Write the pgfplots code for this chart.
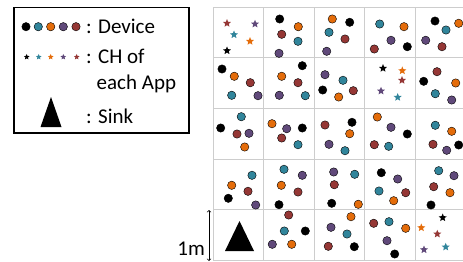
\documentclass[border=0pt]{standalone}
\usepackage{pgfplots}
\pgfplotsset{compat=1.18}
\usepackage{fontspec}
\setmainfont{Carlito}
\definecolor{cblack}{RGB}{0,0,0}
\definecolor{cteal}{RGB}{49,133,155}
\definecolor{corange}{RGB}{228,108,10}
\definecolor{cpurple}{RGB}{96,73,122}
\definecolor{cred}{RGB}{149,55,53}
\definecolor{cgrid}{RGB}{205,205,205}
\pgfdeclareplotmark{fstar}{%
  \pgfpathmoveto{\pgfpointpolar{90}{\pgfplotmarksize}}%
  \pgfpathlineto{\pgfpointpolar{126}{0.45\pgfplotmarksize}}%
  \pgfpathlineto{\pgfpointpolar{162}{\pgfplotmarksize}}%
  \pgfpathlineto{\pgfpointpolar{198}{0.45\pgfplotmarksize}}%
  \pgfpathlineto{\pgfpointpolar{234}{\pgfplotmarksize}}%
  \pgfpathlineto{\pgfpointpolar{270}{0.45\pgfplotmarksize}}%
  \pgfpathlineto{\pgfpointpolar{306}{\pgfplotmarksize}}%
  \pgfpathlineto{\pgfpointpolar{342}{0.45\pgfplotmarksize}}%
  \pgfpathlineto{\pgfpointpolar{18}{\pgfplotmarksize}}%
  \pgfpathlineto{\pgfpointpolar{54}{0.45\pgfplotmarksize}}%
  \pgfpathclose\pgfusepathqfill}
\begin{document}
\begin{tikzpicture}
\begin{axis}[width=463pt,height=262pt,scale only axis,
  xmin=0,xmax=463,ymin=0,ymax=262,y dir=reverse,hide axis,clip=true]
\path[draw=none] (axis cs:0,0) rectangle (axis cs:463,262);
% grid
\addplot[cgrid,line width=1pt] coordinates {
(213,7.5) (470,7.5)

(213,58) (470,58)

(213,108.5) (470,108.5)

(213,159) (470,159)

(213,209.5) (470,209.5)

(213,260) (470,260)

(213,7.5) (213,260)

(263.5,7.5) (263.5,260)

(314,7.5) (314,260)

(364.5,7.5) (364.5,260)

(415,7.5) (415,260)
};
% legend box
\addplot[black,line width=1.5pt] coordinates {(14,7.3) (189,7.3) (189,133) (14,133)} -- cycle;
% devices
\addplot[only marks,mark=*,mark size=4.2pt,cblack,mark options={draw=none,fill=cblack}] coordinates {
(279.7,19) (349.7,22.3) (407.3,46.7) (435,21) (222,69) (302.3,65.7) (322.7,90) (423.7,81.3)
(220.7,128) (302.3,128) (352,122.3) (407.3,134) (458.7,145) (228.3,198.3) (279,204.7)
(331.7,203.3) (381.3,172.7) (431,205) (305.3,231) (354.3,246.7) (394.7,254) (26,26.7)};
\addplot[only marks,mark=*,mark size=4.2pt,mark options={draw=none,fill=cteal}] coordinates {
(298,41.3) (329,32.3) (379.7,24) (446,30) (231.7,95.3) (305.3,95.7) (343,80.3) (435.3,93.7)
(241.3,116.7) (298,144.7) (345,150.7) (388.7,146.3) (435.3,125.3) (252,175.3) (284,169.3)
(354.7,174.3) (379,191) (438.7,170.7) (284.3,231) (347,234) (389,221.7) (38.3,26.7)};
\addplot[only marks,mark=*,mark size=4.2pt,mark options={draw=none,fill=corange}] coordinates {
(298.3,26.7) (332.3,19) (404,26.7) (458.7,23.3) (234.3,76.3) (281.7,76.3) (338.7,97) (455.7,83)
(244.7,147) (272,123.7) (349.7,133.7) (377.3,117) (451.7,131.3) (231.7,185.3) (281.3,185.3)
(358.3,204.3) (393.7,200.7) (450,192.7) (291.7,244.3) (351,216.7) (405.7,228.3) (50.7,26.7)};
\addplot[only marks,mark=*,mark size=4.2pt,mark options={draw=none,fill=cpurple}] coordinates {
(279,53.3) (326.7,51.3) (391,40.3) (425.7,40.3) (258,95.7) (279.3,95.3) (325,74.7) (451.7,100)
(249,133.3) (286.7,128.7) (329,144.3) (391,127.3) (446.7,150.3) (255.7,205) (302.3,175.3)
(333.7,172) (397.7,179) (454,175.7) (272.3,244.3) (331,227.3) (387,240.7) (63.3,26.7)};
\addplot[only marks,mark=*,mark size=4.2pt,mark options={draw=none,fill=cred}] coordinates {
(281.7,34.3) (345,39) (374.3,49) (442,46.7) (250.3,82.7) (298,82.7) (353.3,90.7) (437,71.7)
(237,134) (281.7,138) (325,125) (374.3,144.7) (433,144.3) (248,191.3) (298,192) (334.3,184.7)
(405.7,192.7) (433.7,186.7) (288.7,215) (328.3,246.3) (373.7,223.3) (76,26.7)};
% cluster heads
\addplot[only marks,mark=fstar,mark size=4.2pt,mark options={fill=cblack}] coordinates {(227,50.7) (383,68.3) (442.7,217.7)};
\addplot[only marks,mark=fstar,mark size=4.2pt,mark options={fill=cteal}] coordinates {(234,34.7) (397.7,97.3) (445.7,247)};
\addplot[only marks,mark=fstar,mark size=4.2pt,mark options={fill=corange}] coordinates {(250,41.3) (402.3,70.7) (421.3,227.7)};
\addplot[only marks,mark=fstar,mark size=4.2pt,mark options={fill=cpurple}] coordinates {(255,24) (381,91) (424,249.7)};
\addplot[only marks,mark=fstar,mark size=4.2pt,mark options={fill=cred}] coordinates {(227,23.3) (402,80.3) (437.3,234)};
% legend stars
\addplot[only marks,mark=fstar,mark size=3pt,mark options={fill=cblack}] coordinates {(26.7,57)};
\addplot[only marks,mark=fstar,mark size=3pt,mark options={fill=cteal}] coordinates {(38.7,57)};
\addplot[only marks,mark=fstar,mark size=3pt,mark options={fill=corange}] coordinates {(50.7,57)};
\addplot[only marks,mark=fstar,mark size=3pt,mark options={fill=cpurple}] coordinates {(63.3,57)};
\addplot[only marks,mark=fstar,mark size=3pt,mark options={fill=cred}] coordinates {(76.7,57)};
% sinks
\addplot[fill=black,draw=none] coordinates {(239.5,221) (225,251) (254,251)} -- cycle;
\addplot[fill=black,draw=none] coordinates {(51,97) (40.5,127) (61.5,127)} -- cycle;
% 1m arrow
\addplot[black,line width=0.7pt,<->] coordinates {(209,210) (209,261)};
\node[anchor=base west,font=\fontsize{21}{25}\selectfont,inner sep=0pt] at (axis cs:86,33.3) {: Device};
\node[anchor=base west,font=\fontsize{21}{25}\selectfont,inner sep=0pt] at (axis cs:86,63.3) {: CH of};
\node[anchor=base west,font=\fontsize{21}{25}\selectfont,inner sep=0pt] at (axis cs:96.5,89.3) {each App};
\node[anchor=base west,font=\fontsize{21}{25}\selectfont,inner sep=0pt] at (axis cs:86,123.3) {: Sink};
\node[anchor=base east,font=\fontsize{21}{25}\selectfont,inner sep=0pt] at (axis cs:205,255) {1m};
\end{axis}
\end{tikzpicture}
\end{document}
